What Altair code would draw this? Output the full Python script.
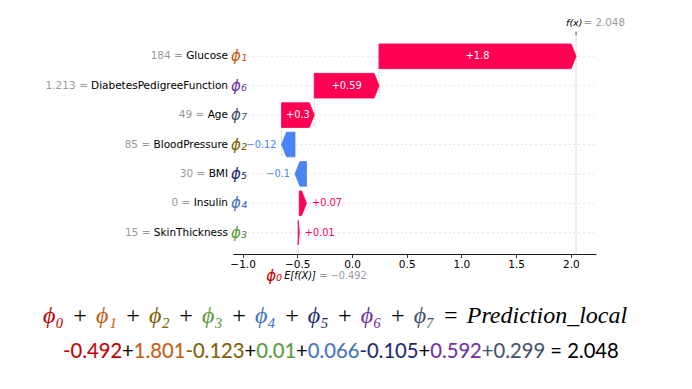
import altair as alt
import pandas as pd

# ---------------- data ----------------
features = ["Glucose", "DiabetesPedigreeFunction", "Age", "BloodPressure", "BMI", "Insulin", "SkinThickness"]
feature_values = ["184", "1.213", "49", "85", "30", "0", "15"]
shap_values = [1.801, 0.592, 0.299, -0.123, -0.105, 0.066, 0.01]
value_labels = ["+1.8", "+0.59", "+0.3", "\u22120.12", "\u22120.1", "+0.07", "+0.01"]
phi_index = [1, 6, 7, 2, 5, 4, 3]
base_value = -0.492
fx_value = 2.048
x_ticks = [-1.0, -0.5, 0.0, 0.5, 1.0, 1.5, 2.0]

phi_colors = ["#c00000", "#c55a11", "#806000", "#5b9a3c", "#4472c4", "#1f2a6e", "#7030a0", "#44546a"]
subs = ["\u2080", "\u2081", "\u2082", "\u2083", "\u2084", "\u2085", "\u2086", "\u2087"]

SP = "\u2004"
eq1_segments = []
eq1_colors = []
for k in range(8):
    eq1_segments.append("\u03d5" + subs[k])
    eq1_colors.append(phi_colors[k])
    eq1_segments.append(SP + "+" + SP if k < 7 else SP + "=" + SP + "Prediction_local")
    eq1_colors.append("#000000")

eq2_segments = ["-0.492", "+", "1.801", "-0.123", "+", "0.01", "+", "0.066", "-0.105", "+", "0.592", "+", "0.299", " = 2.048"]
eq2_colors = [phi_colors[0], "#000000", phi_colors[1], phi_colors[2], "#000000", phi_colors[3], "#000000",
              phi_colors[4], phi_colors[5], "#000000", phi_colors[6], phi_colors[7], phi_colors[7], "#000000"]

POS = "#ff0052"
NEG = "#4b84f5"
HEAD = 0.045
HALF = 0.42

# ---------------- derived tables ----------------
starts, ends = [], []
loc = fx_value
for v in shap_values:
    loc -= v
    starts.append(loc)
    ends.append(loc + v)

# arrow outlines as ranged (vertical-orient) areas: x along the bar, y..y2 its thickness
poly = []
for i, (s, e, v) in enumerate(zip(starts, ends, shap_values)):
    h = min(abs(v), HEAD)
    col = POS if v >= 0 else NEG
    if v >= 0:
        pts = [(s, HALF), (e - h, HALF), (e, 0.0)]
    else:
        pts = [(e, 0.0), (e + h, HALF), (s, HALF)]
    for px, hw in pts:
        poly.append({"f": features[i], "xx": px, "y1": i - hw, "y2": i + hw, "c": col})
poly_df = pd.DataFrame(poly)

rows_df = pd.DataFrame({
    "f": features, "yy": list(range(len(features))), "v": shap_values,
    "start": starts, "end": ends,
    "mid": [(s + e) / 2 for s, e in zip(starts, ends)],
    "lab": value_labels,
    "full": [f"{fv} = {f}" for fv, f in zip(feature_values, features)],
    "phi": ["\u03d5" + subs[k] for k in phi_index],
    "pc": [phi_colors[k] for k in phi_index],
    "inside": [abs(v) >= 0.2 for v in shap_values],
})

# y labels: gray full label, white erase of the name, black name on top
ylab = []
for i in range(len(features)):
    ylab.append({"yy": i, "t": rows_df["full"][i], "c": "#999999", "s": "#ffffff", "sw": 0})
for i in range(len(features)):
    ylab.append({"yy": i, "t": features[i], "c": "#ffffff", "s": "#ffffff", "sw": 1.0})
for i in range(len(features)):
    ylab.append({"yy": i, "t": features[i], "c": "#000000", "s": "#ffffff", "sw": 0})
ylab_df = pd.DataFrame(ylab)

conn_df = pd.DataFrame({
    "x": starts[:3],
    "y1": [i - HALF for i in range(3)],
    "y2": [i + 1 + HALF for i in range(3)],
})

ref_df = pd.DataFrame({"base": [base_value], "fx": [fx_value]})


def prefix_table(segs, cols, erase_w):
    out = []
    n = len(segs)
    for k in range(n - 1, -1, -1):
        t = "".join(segs[:k + 1])
        if k < n - 1:
            out.append({"t": t, "c": "#ffffff", "s": "#ffffff", "sw": erase_w})
        out.append({"t": t, "c": cols[k], "s": "#ffffff", "sw": 0})
    return pd.DataFrame(out)


eq1_df = prefix_table(eq1_segments, eq1_colors, 1.2)
eq2_df = prefix_table(eq2_segments, eq2_colors, 1.0)

# ---------------- scales ----------------
xscale = alt.Scale(domain=[-1.0878, 2.2303], nice=False, zero=False)
yscale = alt.Scale(domain=[-0.725, 6.725], reverse=True, nice=False, zero=False)
xaxis = alt.Axis(values=x_ticks, format=".1f", labelFont="DejaVu Sans", labelFontSize=10.5,
                 labelColor="#000000", tickColor="#000000", domainColor="#000000",
                 tickSize=3.5, tickWidth=0.8, domainWidth=0.9, grid=False, title=None,
                 labelPadding=2)


def X(field):
    return alt.X(field, type="quantitative", scale=xscale, axis=xaxis)


def Y(field):
    return alt.Y(field, type="quantitative", scale=yscale, axis=None)


W, H = 363, 219

grid = alt.Chart(rows_df).mark_rule(color="#cccccc", strokeWidth=0.8, strokeDash=[1.2, 3.6]).encode(
    x=alt.value(0), x2=alt.value(W), y=Y("yy"))

conn = alt.Chart(conn_df).mark_rule(color="#bbbbbb", strokeWidth=0.7, strokeDash=[2, 1]).encode(
    x=X("x"), y=Y("y1"), y2="y2")

fx_line = alt.Chart(ref_df).mark_rule(color="#bbbbbb", strokeWidth=0.7, strokeDash=[2, 1]).encode(
    x=X("fx"), y=alt.value(0), y2=alt.value(H))
base_line = alt.Chart(ref_df).mark_rule(color="#bbbbbb", strokeWidth=0.7, strokeDash=[2, 1]).encode(
    x=X("base"), y=alt.value(H), y2=alt.value(H - H / 7))
fx_tick = alt.Chart(ref_df).mark_rule(color="#000000", strokeWidth=0.8).encode(
    x=X("fx"), y=alt.value(-3.5), y2=alt.value(0))

arrows = alt.Chart(poly_df).mark_area(opacity=1, strokeWidth=0.8, interpolate="linear").encode(
    x=X("xx"), y=Y("y1"), y2="y2",
    fill=alt.Fill("c:N", scale=None), stroke=alt.Stroke("c:N", scale=None),
    detail="f:N")

lab_in = alt.Chart(rows_df).transform_filter("datum.inside").mark_text(
    align="center", baseline="middle", font="DejaVu Sans", fontSize=9.8, color="#ffffff").encode(
    x=X("mid"), y=Y("yy"), text="lab:N")
lab_pos = alt.Chart(rows_df).transform_filter("!datum.inside && datum.v >= 0").mark_text(
    align="left", baseline="middle", font="DejaVu Sans", fontSize=9.8, color=POS, dx=5.5).encode(
    x=X("end"), y=Y("yy"), text="lab:N")
lab_neg = alt.Chart(rows_df).transform_filter("!datum.inside && datum.v < 0").mark_text(
    align="right", baseline="middle", font="DejaVu Sans", fontSize=9.8, color=NEG, dx=-5).encode(
    x=X("end"), y=Y("yy"), text="lab:N")

ylabels = alt.Chart(ylab_df).mark_text(align="right", baseline="middle", font="DejaVu Sans",
                                       fontSize=10.5).encode(
    x=alt.value(-5), y=Y("yy"), text="t:N",
    color=alt.Color("c:N", scale=None), stroke=alt.Stroke("s:N", scale=None),
    strokeWidth=alt.StrokeWidth("sw:Q", scale=None))
ylab_phi = alt.Chart(rows_df).mark_text(align="left", baseline="middle", font="DejaVu Sans",
                                        fontSize=15, fontStyle="italic").encode(
    x=alt.value(-2), y=Y("yy"), text="phi:N", color=alt.Color("pc:N", scale=None))

fx_t1 = alt.Chart(ref_df).mark_text(align="left", baseline="middle", font="DejaVu Sans", fontSize=9.5,
                                    fontStyle="italic", color="#000000", dx=-10, text="f(x)").encode(
    x=X("fx"), y=alt.value(-12))
fx_t2 = alt.Chart(ref_df).mark_text(align="left", baseline="middle", font="DejaVu Sans", fontSize=10.3,
                                    color="#999999", dx=7.5,
                                    text=f"= {fx_value:.3f}").encode(
    x=X("fx"), y=alt.value(-12))
ef_t1 = alt.Chart(ref_df).mark_text(align="left", baseline="middle", font="DejaVu Sans", fontSize=9.8,
                                    fontStyle="italic", color="#000000", dx=-14, text="E[f(X)]").encode(
    x=X("base"), y=alt.value(241))
ef_t2 = alt.Chart(ref_df).mark_text(align="left", baseline="middle", font="DejaVu Sans", fontSize=9.8,
                                    color="#999999", dx=21,
                                    text="= " + f"{base_value:.3f}".replace("-", "\u2212")).encode(
    x=X("base"), y=alt.value(241))
ef_phi = alt.Chart(ref_df).mark_text(align="left", baseline="middle", font="DejaVu Sans", fontSize=15,
                                     fontStyle="italic", color=phi_colors[0], dx=-32,
                                     text="\u03d5" + subs[0]).encode(
    x=X("base"), y=alt.value(241))

eq1 = alt.Chart(eq1_df).mark_text(align="left", baseline="middle", font="Liberation Serif, DejaVu Serif",
                                  fontSize=24, fontStyle="italic").encode(
    x=alt.value(-190), y=alt.value(281), text="t:N",
    color=alt.Color("c:N", scale=None), stroke=alt.Stroke("s:N", scale=None),
    strokeWidth=alt.StrokeWidth("sw:Q", scale=None))
eq2 = alt.Chart(eq2_df).mark_text(align="left", baseline="middle", font="Lato", fontSize=20.2).encode(
    x=alt.value(-170), y=alt.value(317), text="t:N",
    color=alt.Color("c:N", scale=None), stroke=alt.Stroke("s:N", scale=None),
    strokeWidth=alt.StrokeWidth("sw:Q", scale=None))

chart = alt.layer(
    grid, conn, fx_line, base_line, fx_tick, arrows,
    lab_in, lab_pos, lab_neg, ylabels, ylab_phi,
    fx_t1, fx_t2, ef_t1, ef_t2, ef_phi, eq1, eq2,
).properties(
    width=W, height=H,
    autosize=alt.AutoSizeParams(type="none"),
    padding={"left": 225, "top": 27, "right": 88, "bottom": 118},
).configure_view(stroke=None)

chart.save("out.html", embed_options={"renderer": "svg", "actions": False})
